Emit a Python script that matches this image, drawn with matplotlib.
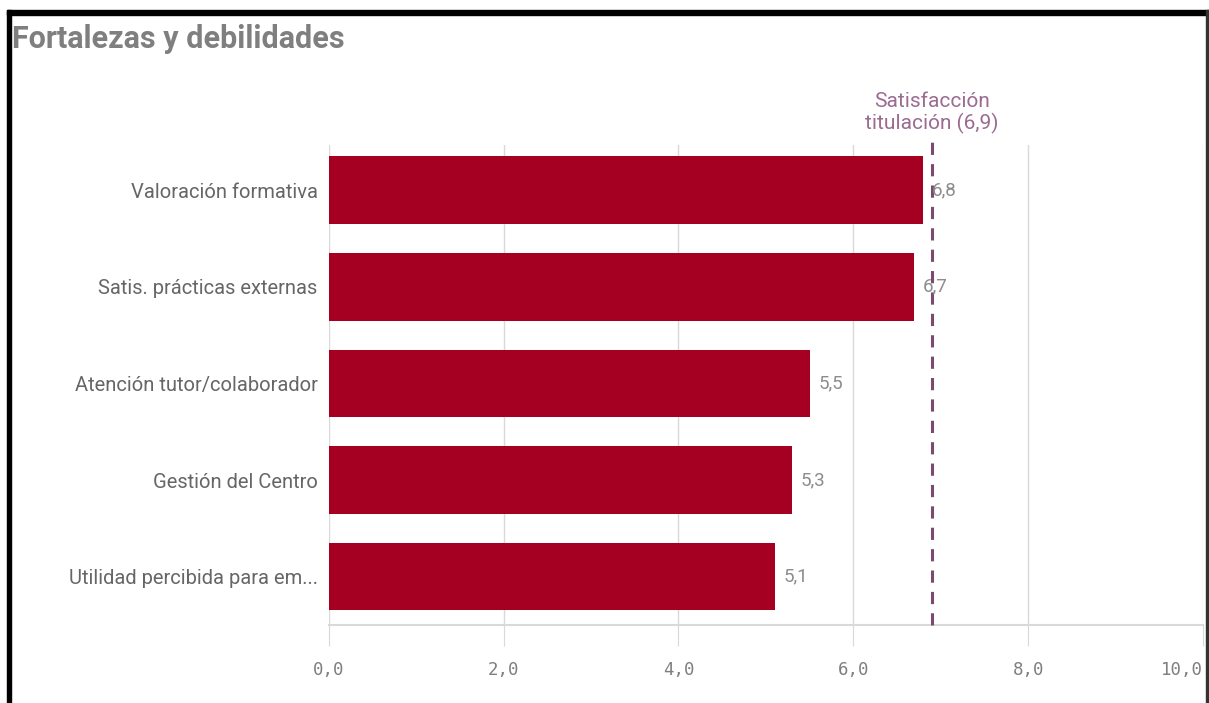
import matplotlib.pyplot as plt
from matplotlib.patches import Rectangle

# datos
categorias = ["Valoración formativa", "Satis. prácticas externas",
              "Atención tutor/colaborador", "Gestión del Centro",
              "Utilidad percibida para em..."]
valores = [6.8, 6.7, 5.5, 5.3, 5.1]
satisfaccion = 6.9
ticks_x = [0, 2, 4, 6, 8, 10]

color_barra = "#a50021"
color_texto = "#7f7f7f"
color_linea = "#7b4a70"

plt.rcParams['font.family'] = ['Roboto', 'DejaVu Sans']

fig = plt.figure(figsize=(12.09, 7.03), dpi=100)
ax = fig.add_axes([0.272, 0.111, 0.723, 0.683])

y = list(range(len(categorias)))
ax.barh(y, valores, height=0.7, color=color_barra, zorder=3)

for yi, v in zip(y, valores):
    ax.text(v + 0.1, yi, f"{v:.1f}".replace(".", ","), va="center", ha="left",
            fontsize=13.5, color="#8c8c8c", zorder=5)

# linea de satisfaccion titulacion
ax.axvline(satisfaccion, color=color_linea, linestyle=(0, (4, 3)), linewidth=2.2,
           zorder=4, ymin=0, ymax=1.01, clip_on=False)
ax.text(satisfaccion, -0.58, "Satisfacción\ntitulación (6,9)", ha="center",
        va="bottom", fontsize=15, color="#9c6b92", linespacing=1.15)

ax.set_xlim(0, 10)
ax.set_ylim(4.5, -0.47)
ax.set_xticks(ticks_x)
ax.set_xticklabels([f"{t:.1f}".replace(".", ",") for t in ticks_x],
                   family="DejaVu Sans Mono", fontsize=12.5, color=color_texto)
ax.get_xticklabels()[-1].set_horizontalalignment("right")
ax.set_yticks(y)
ax.set_yticklabels(categorias, fontsize=14.5, color="#666666")

ax.grid(axis="x", color="#d9d9d9", linewidth=1, zorder=0)
ax.tick_params(axis="x", length=15, color="#d9d9d9", pad=11)
ax.tick_params(axis="y", length=0, pad=8)
for s in ["top", "right", "left"]:
    ax.spines[s].set_visible(False)
ax.spines["bottom"].set_color("#d9d9d9")
ax.spines["bottom"].set_linewidth(1.5)

fig.text(0.01, 0.945, "Fortalezas y debilidades", fontsize=22, fontweight="bold",
         color=color_texto, va="center", ha="left")

# marco negro
fig.patches.append(Rectangle((0.006, 0.978), 0.994, 0.008, transform=fig.transFigure,
                             color="black", zorder=10))
fig.patches.append(Rectangle((0.006, 0.0), 0.0035, 0.986, transform=fig.transFigure,
                             color="black", zorder=10))
fig.patches.append(Rectangle((0.9975, 0.0), 0.0025, 0.986, transform=fig.transFigure,
                             color="#333333", zorder=10))

fig.savefig("out.png", dpi=100)
